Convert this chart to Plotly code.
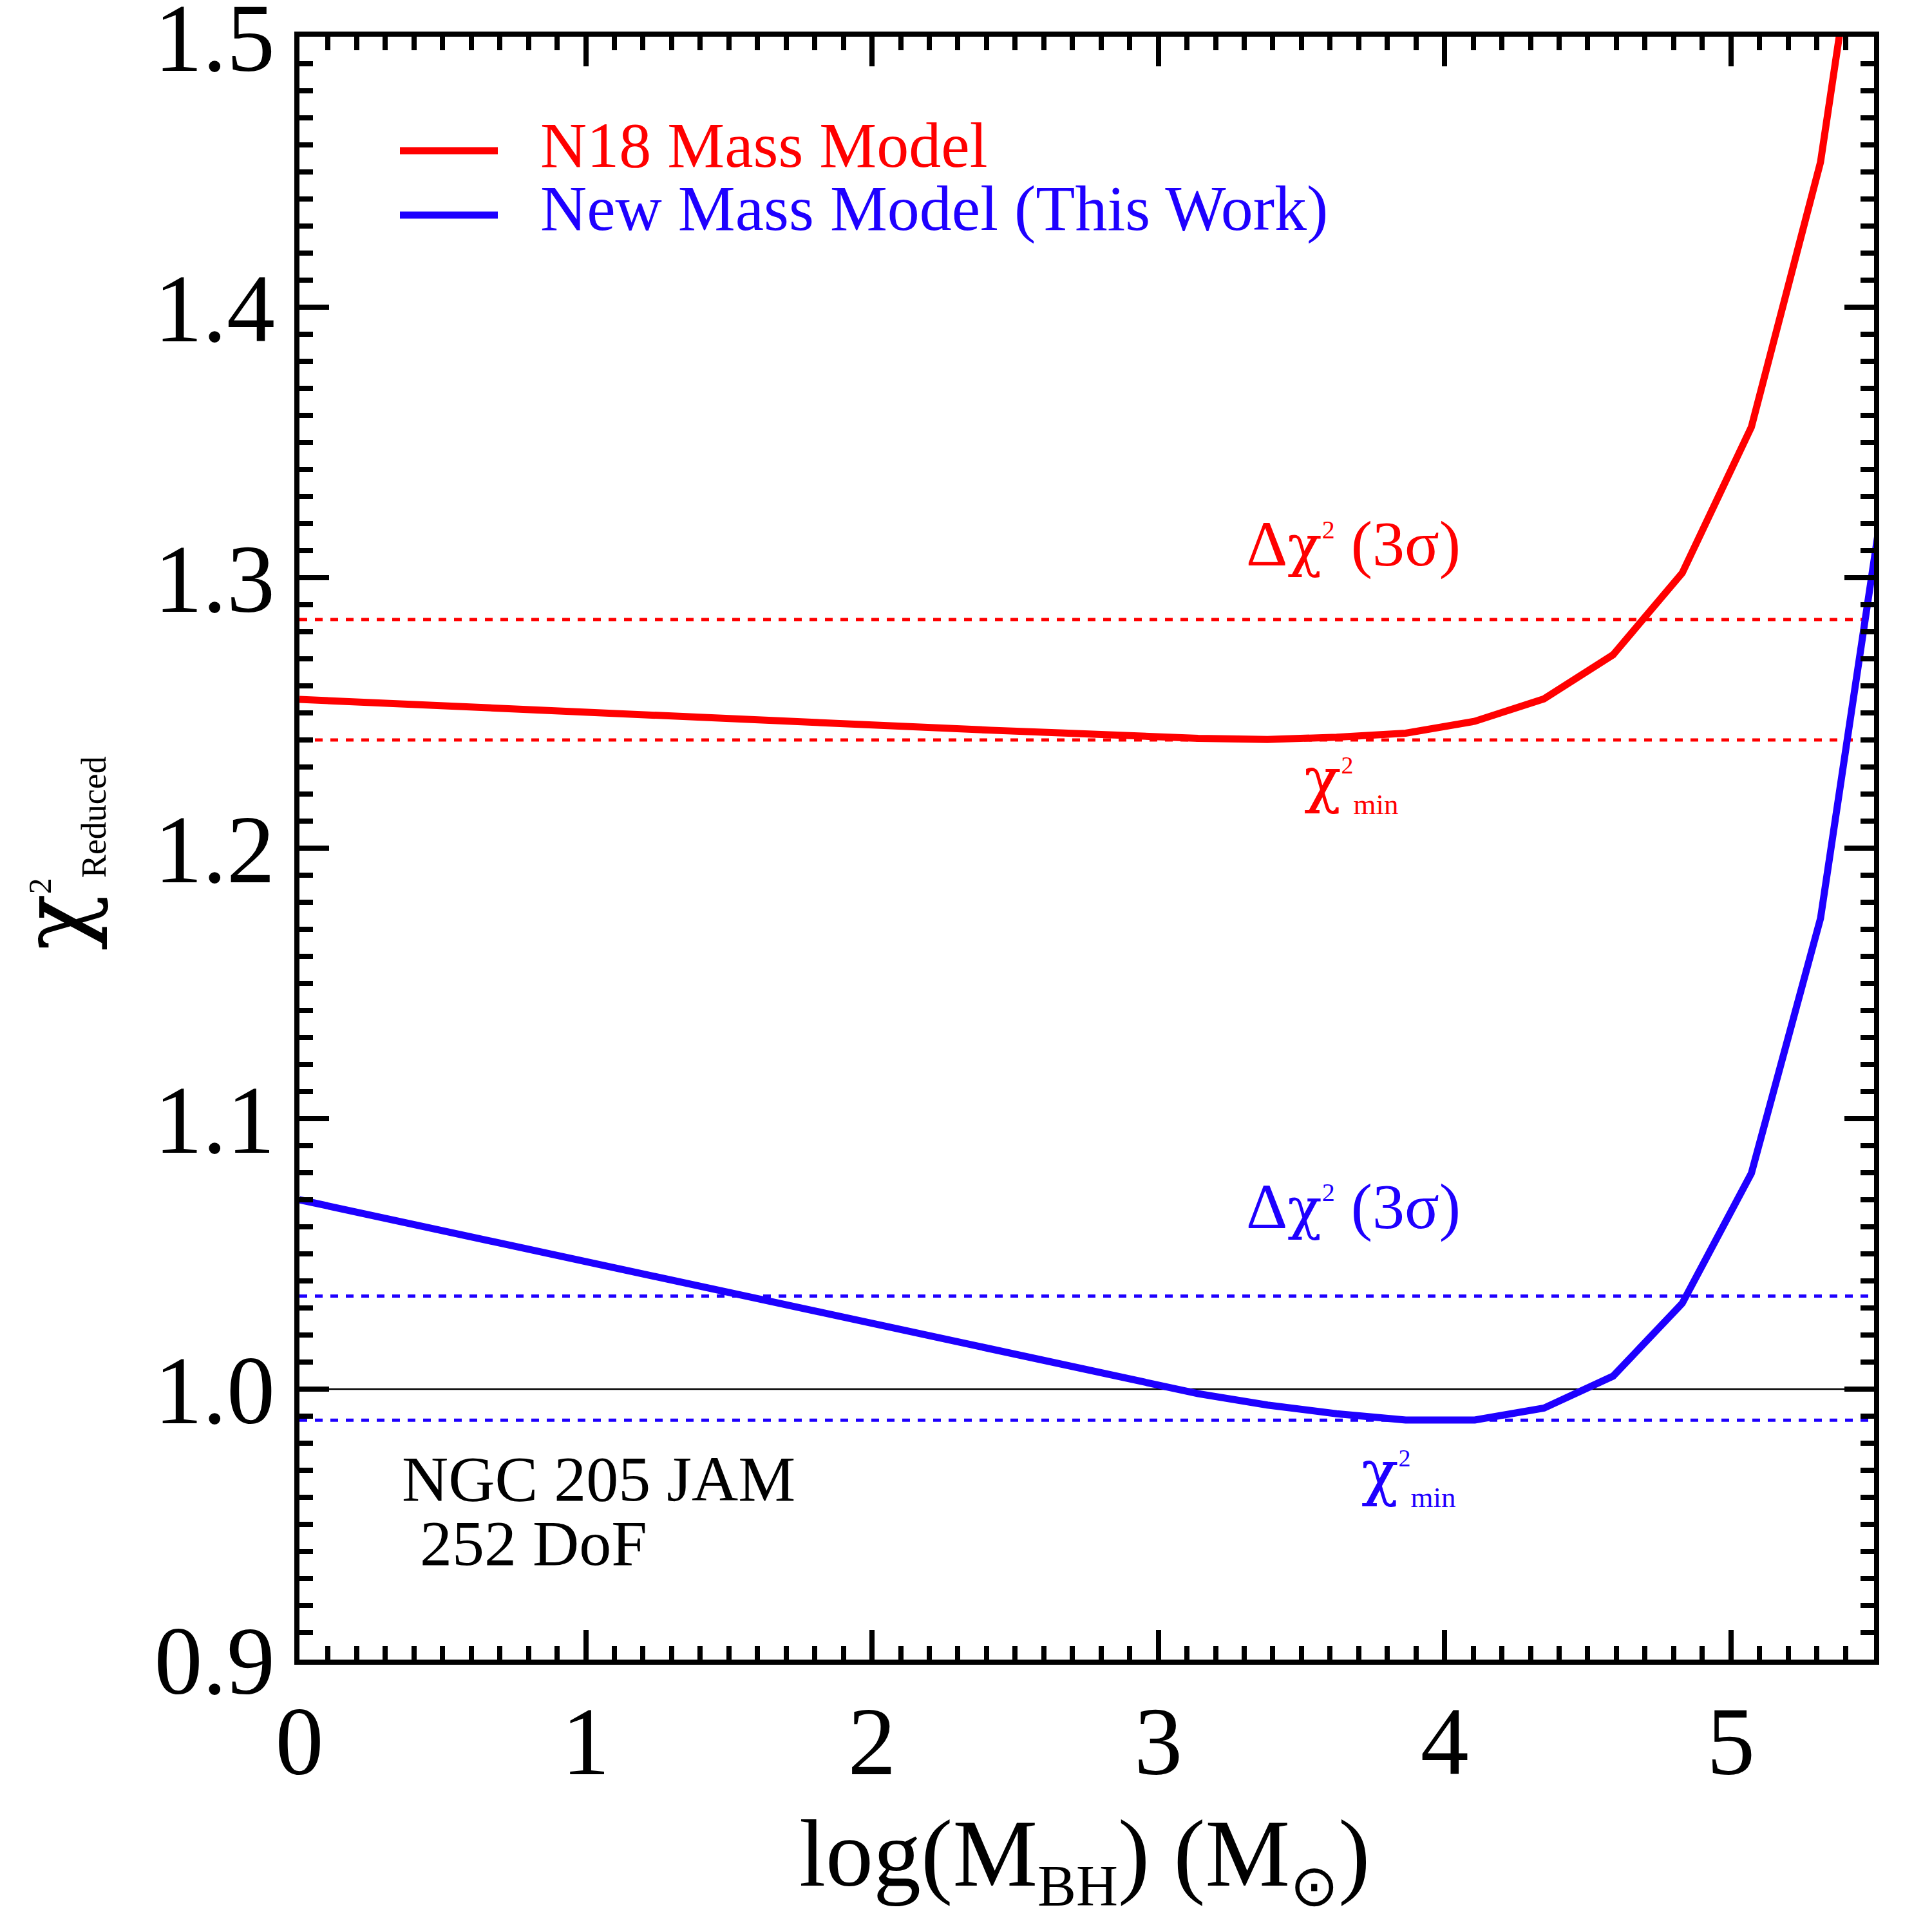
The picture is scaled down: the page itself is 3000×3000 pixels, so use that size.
import plotly.graph_objects as go

# ---------------- data ----------------
log_mbh = [0.0000, 0.2415, 0.4830, 0.7245, 0.9660, 1.2075, 1.4490, 1.6905,
           1.9320, 2.1735, 2.4150, 2.6565, 2.8980, 3.1395, 3.3810, 3.6225,
           3.8640, 4.1055, 4.3470, 4.5885, 4.8300, 5.0715, 5.3130, 5.5545]

chi2_n18 = [1.2550, 1.2538, 1.2526, 1.2514, 1.2502, 1.2490, 1.2479, 1.2468,
            1.2457, 1.2446, 1.2436, 1.2426, 1.2415, 1.2406, 1.2402, 1.2410,
            1.2425, 1.2469, 1.2552, 1.2715, 1.3017, 1.3557, 1.4536, 1.6250]

chi2_new = [1.0700, 1.0645, 1.0590, 1.0535, 1.0480, 1.0425, 1.0370, 1.0315,
            1.0259, 1.0203, 1.0148, 1.0093, 1.0038, 0.9983, 0.9941, 0.9909,
            0.9886, 0.9886, 0.9930, 1.0048, 1.0317, 1.0798, 1.1740, 1.3450]

x_span = [0.0, 5.5]
n18_min_level = 1.2400
n18_3sig_level = 1.2845
new_min_level = 0.9885
new_3sig_level = 1.0344
unity_level = 1.0

series_names = ["N18 Mass Model", "New Mass Model (This Work)"]
x_ticks = [0, 1, 2, 3, 4, 5]
y_ticks = [0.9, 1.0, 1.1, 1.2, 1.3, 1.4, 1.5]

# ---------------- styling ----------------
RED = "#ff0000"
BLUE = "#1e00ff"
FONT = "Liberation Serif"
W = H = 3000
L, R, T, B = 465, 2910, 57, 2577  # plot area in pixels


def px(xp):
    return (xp - L) / (R - L)


def py(yp):
    return (B - yp) / (B - T)


fig = go.Figure()

# dashed reference levels
for lvl, col in [(n18_3sig_level, RED), (n18_min_level, RED),
                 (new_3sig_level, BLUE), (new_min_level, BLUE)]:
    fig.add_trace(go.Scatter(x=x_span, y=[lvl, lvl], mode="lines",
                             line=dict(color=col, width=5, dash="12px,12px"),
                             showlegend=False, hoverinfo="skip"))

fig.add_trace(go.Scatter(x=x_span, y=[unity_level, unity_level], mode="lines",
                         line=dict(color="black", width=2.5),
                         showlegend=False, hoverinfo="skip"))

fig.add_trace(go.Scatter(x=log_mbh, y=chi2_n18, mode="lines",
                         line=dict(color=RED, width=11), name=series_names[0],
                         showlegend=False))
fig.add_trace(go.Scatter(x=log_mbh, y=chi2_new, mode="lines",
                         line=dict(color=BLUE, width=11), name=series_names[1],
                         showlegend=False))

axis_common = dict(
    showline=True, linewidth=8, linecolor="black", mirror="allticks",
    ticks="inside", tickwidth=8, ticklen=46, tickcolor="black",
    showgrid=False, zeroline=False, ticklabeloverflow="allow",
    automargin=False,
    tickfont=dict(family=FONT, size=150, color="black"),
)

fig.update_xaxes(range=x_span, tickmode="array", tickvals=x_ticks,
                 ticktext=[str(t) for t in x_ticks],
                 minor=dict(ticks="inside", ticklen=21, tickwidth=8,
                            tickcolor="black", dtick=0.1, tick0=0),
                 ticklabelstandoff=-10,
                 **axis_common)
fig.update_yaxes(range=[y_ticks[0], y_ticks[-1]], tickmode="array",
                 tickvals=y_ticks, ticktext=[f"{t:.1f}" for t in y_ticks],
                 minor=dict(ticks="inside", ticklen=21, tickwidth=8,
                            tickcolor="black", dtick=0.01, tick0=0.9),
                 ticklabelstandoff=0,
                 **axis_common)

ann = []


def text(xp, yp, s, size, color, xanchor="left", angle=0):
    ann.append(dict(xref="paper", yref="paper", x=px(xp), y=py(yp), text=s,
                    showarrow=False, xanchor=xanchor, yanchor="middle",
                    textangle=angle,
                    font=dict(family=FONT, size=size, color=color)))


def chi(size):
    return f"<span style=\"font-family:DejaVu Serif;font-size:{size}px\">χ</span>"


# legend
for yl, yt, col, nm in [(234, 226, RED, series_names[0]),
                        (334, 324, BLUE, series_names[1])]:
    fig.add_shape(type="line", xref="paper", yref="paper",
                  x0=px(621), x1=px(773), y0=py(yl), y1=py(yl),
                  line=dict(color=col, width=11))
    text(837, yt, nm, 100, col)

dchi = "Δ" + chi(88) + "<sup><span style='font-size:40px'>2</span></sup> (3σ)"
chimin = chi(95) + "<sup><span style='font-size:38px'>2</span></sup><sub><span style='font-size:45px'>min</span></sub>"
text(1933, 844, dchi, 100, RED)
text(1933, 1873, dchi, 100, BLUE)
text(2023, 1214, chimin, 100, RED)
text(2112, 2290, chimin, 100, BLUE)

text(622, 2296, "NGC 205 JAM", 100, "black")
text(650, 2396, "252 DoF", 100, "black")

# axis titles
text(1684, 2887,
     "log(M<sub><span style='font-size:90px'>BH</span></sub>) (M<sub><span style='font-size:90px'>⊙</span></sub>)",
     148, "black", xanchor="center")
text(88, 1325,
     chi(145) + "<sup><span style='font-size:50px'>2</span></sup><sub><span style='font-size:54px'>Reduced</span></sub>",
     135, "black", xanchor="center", angle=-90)

fig.update_layout(
    width=W, height=H, autosize=False,
    margin=dict(l=L, r=W - R, t=T, b=H - B, pad=0),
    paper_bgcolor="white", plot_bgcolor="white",
    annotations=ann, showlegend=False,
)

fig.write_html("out.html")
